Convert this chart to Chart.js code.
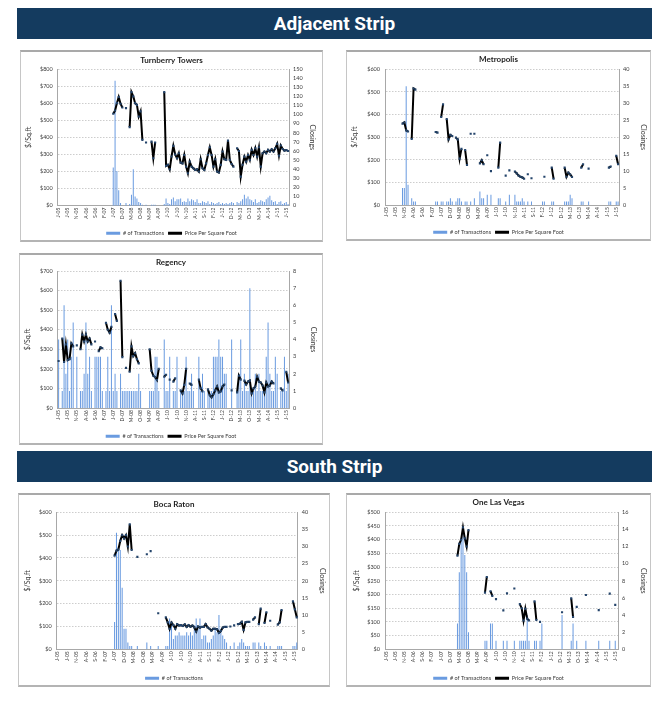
<!DOCTYPE html>
<html lang="en">
<head>
<meta charset="UTF-8">
<title>Adjacent Strip / South Strip</title>
<script src="https://cdn.jsdelivr.net/npm/chart.js"></script>
<style>
    body { margin: 0; background: #fff; font-family: Lato, "Open Sans", sans-serif; }
    .page { position: relative; width: 671px; height: 705px; overflow: hidden; }
    .banner {
        position: absolute; left: 17px; width: 635px; height: 31px;
        background: #143b5f; color: #fff; text-align: center;
        font: bold 19px Roboto, "Liberation Sans", sans-serif; line-height: 31px;
    }
    .panel {
        position: absolute; box-sizing: border-box;
        border: 1px solid #c6c6c6; border-top: 2px solid #a9a9a9; border-bottom: 2px solid #b4b4b4;
    }
    canvas { position: absolute; }
</style>
</head>
<body>
<div class="page">
    <div class="banner" style="top:8px">Adjacent Strip</div>
    <div class="panel" style="left:20px;top:50px;width:303px;height:192px"></div>
    <canvas id="turnberry" width="303" height="196" style="left:20px;top:50px"></canvas>
    <div class="panel" style="left:346px;top:50px;width:305px;height:191px"></div>
    <canvas id="metropolis" width="305" height="195" style="left:346px;top:50px"></canvas>
    <div class="panel" style="left:19px;top:253px;width:304px;height:192px"></div>
    <canvas id="regency" width="304" height="196" style="left:19px;top:253px"></canvas>

    <div class="banner" style="top:451px">South Strip</div>
    <div class="panel" style="left:18px;top:493px;width:312px;height:194px"></div>
    <canvas id="boca" width="312" height="198" style="left:18px;top:493px"></canvas>
    <div class="panel" style="left:346px;top:493px;width:305px;height:194px"></div>
    <canvas id="olv" width="305" height="198" style="left:346px;top:493px"></canvas>
</div>

<script>
    const _ = null;

    // monthly categories Jan-05 .. Jul-15, a tick label every 5th month
    const monthLetters = ['J', 'F', 'M', 'A', 'M', 'J', 'J', 'A', 'S', 'O', 'N', 'D'];
    const firstYear = 2005;
    const monthCount = 127;
    const months = [];
    for (let i = 0; i < monthCount; i++) {
        const yy = String((firstYear + Math.floor(i / 12)) % 100).padStart(2, '0');
        months.push(monthLetters[i % 12] + '-' + yy);
    }

    // ---- Turnberry Towers ----
    const turnberryPrice = [
        _, _, _, _, _, _, _, _, _, _, _, _,
        _, _, _, _, _, _, _, _, _, _, _, _,
        _, _, _, _, _, _, 538, 557, 600, 636, 597, 575,
        _, 571, _, 460, 665, 640, 600, 590, 522, 552, 385, _,
        370, _, _, 375, 278, 370, _, _, _, _, 665, 233,
        240, 213, 288, 350, 300, 278, 307, 252, 248, 297, 229, 190,
        258, 229, 219, 209, 213, 200, 272, 219, 209, 248, 297, 342,
        297, 229, 272, 200, 194, 239, 317, 272, 268, 381, 268, 244,
        229, _, 336, 320, 170, 240, 287, 258, 297, 268, 327, 297,
        336, 287, 342, 229, 307, 317, 307, 327, 317, 330, 317, 336,
        362, 293, 352, 332, 322, 326, 320
    ];
    const turnberryClosings = [
        _, _, _, _, _, _, _, _, _, _, _, _,
        _, _, _, _, _, _, _, _, _, _, _, _,
        _, _, _, _, _, _, 42, 137, 38, 17, 3, _,
        _, 3, _, 2, 12, 40, 10, 8, 4, 3, 1, _,
        1, _, _, 1, 1, 1, _, _, _, _, 2, 8,
        3, 2, 7, 9, 5, 7, 7, 8, 4, 5, 4, 8,
        5, 7, 6, 4, 7, 3, 3, 5, 4, 3, 5, 2,
        4, 3, 2, 3, 4, 2, 3, 2, 3, 2, 3, 4,
        3, _, 4, 3, 5, 7, 12, 8, 10, 7, 6, 4,
        7, 3, 4, 6, 5, 4, 7, 9, 11, 6, 4, 5,
        2, 4, 5, 2, 3, 4, 2
    ];

    // ---- Metropolis ----
    const metropolisPrice = [
        _, _, _, _, _, _, _, _, _, 360, 365, 330,
        325, _, 292, 515, 510, _, _, _, _, _, _, _,
        _, _, _, 323, 320, _, 389, 445, _, 380, 290, 310,
        305, _, 298, 290, 205, 248, _, 243, 177, _, 315, _,
        315, _, _, 184, 198, 180, _, 220, _, 150, _, _,
        _, 165, 276, _, _, 130, _, 153, _, _, 148, 140,
        130, 125, 122, 116, _, 136, _, 118, _, _, _, _,
        _, _, 125, _, _, _, 165, 116, _, _, _, _,
        _, 165, 125, 143, 135, 124, _, _, _, _, 165, 180,
        _, _, 161, _, _, _, _, _, _, _, _, _,
        _, 165, 170, _, _, 218, 180
    ];
    const metropolisClosings = [
        _, _, _, _, _, _, _, _, _, 5, 5, 35,
        6, _, 2, 1, 1, _, _, _, _, _, _, _,
        _, _, _, 1, 1, _, 1, 1, _, 1, 1, 2,
        1, _, 1, 2, 2, 1, _, 1, 1, _, 1, _,
        2, _, _, 4, 2, 2, _, 3, _, 3, _, _,
        _, 2, 2, _, _, 1, _, 3, _, _, 3, 1,
        1, 1, 2, 1, _, 1, _, 1, _, _, _, _,
        _, 1, 1, _, _, _, 1, 1, _, _, _, _,
        _, 1, 1, 1, 3, 2, _, _, _, _, 1, 1,
        _, _, 1, _, _, _, _, _, _, _, _, _,
        _, 1, 1, _, _, 1, 1
    ];

    // ---- Regency ----
    const regencyPrice = [
        240, _, 355, 235, 325, 245, 250, 330, 315, _, 320, _,
        300, 375, 340, 375, 340, 355, 325, _, 340, _, 290, 310,
        305, _, 435, 400, 385, 415, _, 480, 445, _, 650, 260,
        _, 205, _, 185, 315, 265, 280, 250, 228, _, _, _,
        _, _, 300, 190, 165, 158, 143, 200, _, _, 160, 170,
        _, 145, _, 135, 152, _, _, 90, 75, 118, 200, _,
        125, 118, _, _, _, 145, 100, 85, _, _, 95, 65,
        55, 70, 90, 110, 80, 85, 110, 120, _, _, _, 90,
        _, _, 80, 165, 145, _, 140, 120, 135, 140, 75, 100,
        110, 160, 135, 130, 115, 80, 130, 110, 115, 135, 125, _,
        _, _, 100, 90, _, 185, 130
    ];
    const regencyClosings = [
        4, _, 1, 6, 2, 4, 1, 3, 5, _, 3, _,
        1, 1, 2, 5, 2, 3, 1, _, 3, 3, 3, 3,
        1, _, 1, 3, 1, 6, 1, 2, 1, _, 2, 1,
        1, 1, 1, 1, 1, 1, 1, 1, 2, 1, _, _,
        _, _, 1, 1, 1, 3, 3, 1, _, _, 4, 1,
        1, 3, _, 1, 1, 3, _, 1, 1, 1, 3, 1,
        1, 2, 1, _, _, 3, 1, 2, 1, _, 1, 1,
        1, 3, 3, 3, 4, 3, 3, 2, 2, _, _, 4,
        _, _, 1, 2, 4, 1, 2, 1, 1, 7, 1, 1,
        2, 1, 2, 1, 1, 1, 3, 5, 2, 1, 1, 3,
        2, _, 1, 1, 3, 1, 2
    ];

    // ---- Boca Raton ----
    const bocaPrice = [
        _, _, _, _, _, _, _, _, _, _, _, _,
        _, _, _, _, _, _, _, _, _, _, _, _,
        _, _, _, _, _, _, 410, 432, 437, 475, 500, 485,
        500, 450, 547, 435, _, _, 405, _, _, _, _, 416,
        _, 430, _, _, _, 158, _, _, _, 140, 118, 90,
        117, 106, 90, 110, 104, 106, 102, 109, 98, 106, 99, 104,
        96, 78, 100, 95, 98, 98, 110, 96, 90, 82, 90, 90,
        88, 72, 80, 95, 98, 98, _, 100, _, 105, _, 110,
        112, 120, 85, 118, 120, 120, _, 130, 140, _, 110, 178,
        _, 115, 162, _, 125, _, _, _, 108, 118, 172, _,
        _, _, _, _, 210, 175, 140
    ];
    const bocaClosings = [
        _, _, _, _, _, _, _, _, _, _, _, _,
        _, _, _, _, _, _, _, _, _, _, _, _,
        _, _, _, _, _, _, 8, 34, 30, 29, 18, 6,
        6, 2, 1, 1, _, _, 1, _, _, _, _, 2,
        _, 1, _, _, _, 1, _, _, _, 1, 1, 9,
        8, 3, 4, 4, 5, 4, 4, 4, 5, 4, 5, 4,
        7, 9, 6, 9, 3, 4, 4, 2, 2, 3, 4, 6,
        5, 10, 6, 4, 3, 2, _, 1, _, 2, _, 1,
        2, 3, 2, 1, 1, 1, _, 2, 2, _, 2, 1,
        _, 2, 1, _, 1, _, _, _, 1, 1, 1, _,
        _, _, _, _, 1, 1, 2
    ];

    // ---- One Las Vegas ----
    const olvPrice = [
        _, _, _, _, _, _, _, _, _, _, _, _,
        _, _, _, _, _, _, _, _, _, _, _, _,
        _, _, _, _, _, _, _, _, _, _, _, _,
        _, _, _, 342, 385, 400, 445, 405, 375, 435, _, _,
        _, _, _, _, _, _, 207, 264, _, 212, 195, _,
        183, _, _, _, 142, _, 204, _, _, _, 222, _,
        _, 165, 150, 105, 148, 112, 105, _, _, 175, 107, _,
        100, _, _, _, _, _, _, _, _, _, _, _,
        135, _, _, _, _, 186, 118, _, 155, _, _, _,
        _, 198, _, _, _, _, _, _, 143, _, _, _,
        _, _, 203, _, _, 162, _
    ];
    const olvClosings = [
        _, _, _, _, _, _, _, _, _, _, _, _,
        _, _, _, _, _, _, _, _, _, _, _, _,
        _, _, _, _, _, _, _, _, _, _, _, _,
        _, _, _, 3, 9, 13, 14, 11, 9, 2, _, _,
        _, _, _, _, _, _, 1, 1, _, 3, 3, _,
        1, _, _, _, 1, _, 1, _, _, _, 1, _,
        _, 1, 1, 1, 1, 4, 1, _, _, 1, 1, _,
        1, 3, _, _, _, _, _, _, _, _, _, _,
        4, _, _, _, _, 1, 3, _, 1, _, _, _,
        _, 1, _, _, _, _, _, _, 1, _, _, _,
        _, _, 1, _, _, 1, _
    ];

    const BAR_BLUE = '#6a9be0';
    const TEXT = '#3a3a3a';
    const AXIS = '#a8a8a8';

    Chart.defaults.font.family = 'Lato, "Open Sans", sans-serif';
    Chart.defaults.color = TEXT;

    function drawChart(id, c) {
        new Chart(document.getElementById(id), {
            type: 'bar',
            data: {
                labels: months,
                datasets: [
                    {
                        type: 'bar', label: '# of Transactions', data: c.closings, yAxisID: 'y1',
                        backgroundColor: BAR_BLUE, barPercentage: 0.55, categoryPercentage: 1, order: 2
                    },
                    {
                        type: 'line', label: 'Price Per Square Foot', data: c.price, yAxisID: 'y',
                        borderColor: '#000', backgroundColor: '#000', borderWidth: 2,
                        pointStyle: 'rect', pointRadius: 1.5, pointBackgroundColor: '#24446b',
                        pointBorderWidth: 0, spanGaps: false, tension: 0, order: 1
                    }
                ]
            },
            options: {
                responsive: false,
                animation: false,
                layout: { padding: 0 },
                plugins: {
                    title: {
                        display: true, text: c.title, color: '#1e1e1e',
                        font: { size: 8, weight: 'bold' },
                        padding: { top: c.box.tT, bottom: c.box.tB }
                    },
                    legend: {
                        position: 'bottom',
                        labels: {
                            boxWidth: 14, boxHeight: 3, padding: 4, color: TEXT,
                            font: { size: 5.5 },
                            sort: (a, b) => a.datasetIndex - b.datasetIndex,
                            filter: item => c.lineLegend || item.datasetIndex === 0,
                            generateLabels(chart) {
                                const items = Chart.defaults.plugins.legend.labels.generateLabels(chart);
                                items.forEach(it => { it.lineWidth = 0; });
                                return items;
                            }
                        }
                    },
                    tooltip: { enabled: false }
                },
                scales: {
                    x: {
                        grid: { display: false, drawTicks: false },
                        border: { color: AXIS },
                        ticks: {
                            autoSkip: false, maxRotation: 90, minRotation: 90, padding: 2,
                            font: { size: 5 },
                            callback: function (value, index) {
                                return index % 5 === 0 ? this.getLabelForValue(value) : '';
                            }
                        },
                        afterFit(s) { s.height = c.box.xh; }
                    },
                    y: {
                        position: 'left', min: 0, max: c.yMax,
                        ticks: { stepSize: c.yStep, autoSkip: false, padding: 5, font: { size: 5.5 }, callback: v => '$' + v },
                        grid: { color: '#cdcdcd', drawTicks: false },
                        border: { color: AXIS, dash: [1.5, 1.5] },
                        title: { display: true, text: '$/Sq.ft', font: { size: 7 }, padding: { top: c.box.yPad } },
                        afterFit(s) { s.width = c.box.lw; }
                    },
                    y1: {
                        position: 'right', min: 0, max: c.y1Max,
                        ticks: { stepSize: c.y1Step, autoSkip: false, padding: 4, font: { size: 5.5 } },
                        grid: { display: false, drawTicks: false },
                        border: { color: AXIS },
                        title: { display: true, text: 'Closings', font: { size: 7 }, padding: { top: c.box.y1Pad } },
                        afterFit(s) { s.width = c.box.rw; }
                    }
                }
            }
        });
    }

    drawChart('turnberry', {
        title: 'Turnberry Towers', price: turnberryPrice, closings: turnberryClosings,
        yMax: 800, yStep: 100, y1Max: 150, y1Step: 10, lineLegend: true,
        box: { lw: 37.7, rw: 34, xh: 20.8, tT: 5.2, tB: 4.2, yPad: 4.8, y1Pad: 6.8 }
    });
    drawChart('metropolis', {
        title: 'Metropolis', price: metropolisPrice, closings: metropolisClosings,
        yMax: 600, yStep: 100, y1Max: 40, y1Step: 5, lineLegend: true,
        box: { lw: 39, rw: 32, xh: 20.5, tT: 4.2, tB: 5.5, yPad: 4.8, y1Pad: 3.8 }
    });
    drawChart('regency', {
        title: 'Regency', price: regencyPrice, closings: regencyClosings,
        yMax: 700, yStep: 100, y1Max: 8, y1Step: 1, lineLegend: true,
        box: { lw: 38.7, rw: 34, xh: 21.5, tT: 4.2, tB: 4.2, yPad: 4.8, y1Pad: 5.8 }
    });
    drawChart('boca', {
        title: 'Boca Raton', price: bocaPrice, closings: bocaClosings,
        yMax: 600, yStep: 100, y1Max: 40, y1Step: 5, lineLegend: false,
        box: { lw: 38.7, rw: 32.3, xh: 22.2, tT: 6.2, tB: 3.5, yPad: 5.8, y1Pad: 3.8 }
    });
    drawChart('olv', {
        title: 'One Las Vegas', price: olvPrice, closings: olvClosings,
        yMax: 500, yStep: 50, y1Max: 16, y1Step: 2, lineLegend: true,
        box: { lw: 39, rw: 33, xh: 22.2, tT: 4.2, tB: 5.5, yPad: 6.8, y1Pad: 3.8 }
    });
</script>
</body>
</html>
